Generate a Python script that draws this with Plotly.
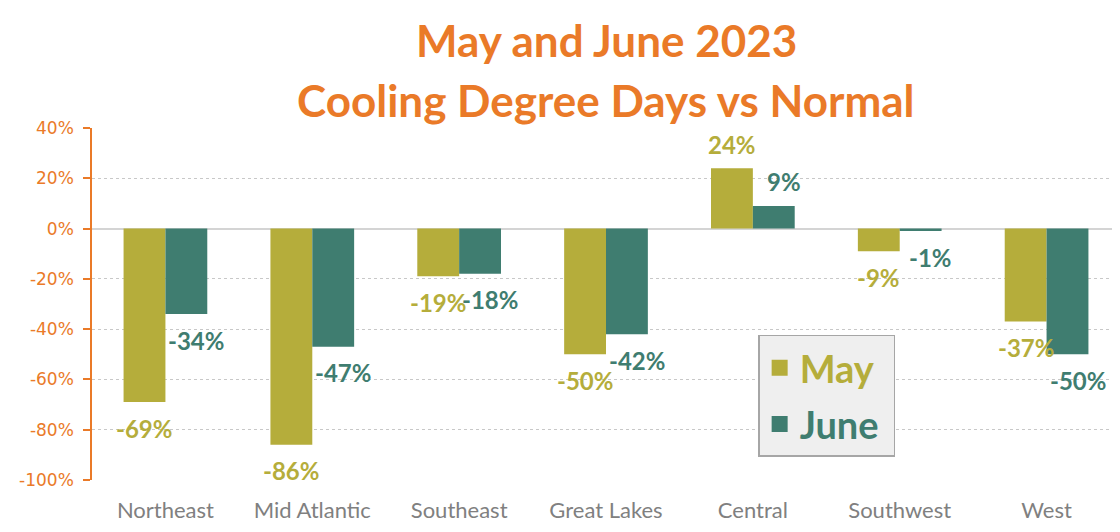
import plotly.graph_objects as go

# Data
regions = ["Northeast", "Mid Atlantic", "Southeast", "Great Lakes",
           "Central", "Southwest", "West"]
may_pct = [-69, -86, -19, -50, 24, -9, -37]
june_pct = [-34, -47, -18, -42, 9, -1, -50]
y_ticks = [40, 20, 0, -20, -40, -60, -80, -100]
title_lines = ["May and June 2023", "Cooling Degree Days vs Normal"]

MAY_COLOUR = "#b5ad3b"
JUNE_COLOUR = "#3f7d70"
ORANGE = "#ea7a28"
FONT = "Lato"

fig = go.Figure()
for name, vals, colour in [("May", may_pct, MAY_COLOUR),
                           ("June", june_pct, JUNE_COLOUR)]:
    fig.add_trace(go.Bar(
        x=regions, y=vals, name=name, marker_color=colour,
        marker_line_width=0, showlegend=False,
    ))
    # legend-only marker so the swatch can be large
    fig.add_trace(go.Scatter(
        x=[None], y=[None], mode="markers", legendgroup=name,
        name=f"<b><span style='color:{colour}'>{name}</span></b> ",
        marker=dict(symbol="square", size=23, color=colour),
    ))

# Value labels (offset below negative bars, above positive ones)
for vals, colour, xs in [(may_pct, MAY_COLOUR, -21), (june_pct, JUNE_COLOUR, 31)]:
    for r, v in zip(regions, vals):
        fig.add_annotation(
            x=r, y=v, text=f"<b>{v}%</b>", showarrow=False,
            xshift=xs, yshift=(24 if v > 0 else -26),
            font=dict(family=FONT, size=24, color=colour),
        )

# Two-line title
for line, ypos in zip(title_lines, [1.25, 1.08]):
    fig.add_annotation(
        x=0.5, y=ypos, xref="paper", yref="paper",
        xanchor="center", yanchor="middle", showarrow=False,
        text=f"<b>{line}</b>",
        font=dict(family=FONT, size=44, color=ORANGE),
    )

fig.update_layout(
    width=1112, height=524,
    margin=dict(l=84, r=0, t=120, b=52),
    paper_bgcolor="white", plot_bgcolor="white",
    barmode="group", bargap=0.43, bargroupgap=0,
    legend=dict(
        x=0.648, y=0.412, xanchor="left", yanchor="top",
        bgcolor="#efefef", bordercolor="#a6a6a6", borderwidth=1.5,
        font=dict(family=FONT, size=38), itemsizing="trace",
        tracegroupgap=4,
    ),
    xaxis=dict(
        showgrid=False, showline=False, ticks="", automargin=False,
        tickfont=dict(family=FONT, size=22, color="#808080"),
        ticklabelstandoff=15,
    ),
    yaxis=dict(
        range=[-100, 40], tickvals=y_ticks, automargin=False,
        ticktext=[f"{t}%" for t in y_ticks],
        showline=True, linecolor=ORANGE, linewidth=1.5,
        ticks="outside", ticklen=7, tickcolor=ORANGE, tickwidth=1.5,
        tickfont=dict(family="DejaVu Sans", size=17, color=ORANGE),
        showgrid=True, gridcolor="#c8c8c8", griddash="dot", gridwidth=1,
        zeroline=True, zerolinecolor="#d4d4d4", zerolinewidth=2,
        ticklabelstandoff=6,
    ),
)

fig.write_html("out.html")
